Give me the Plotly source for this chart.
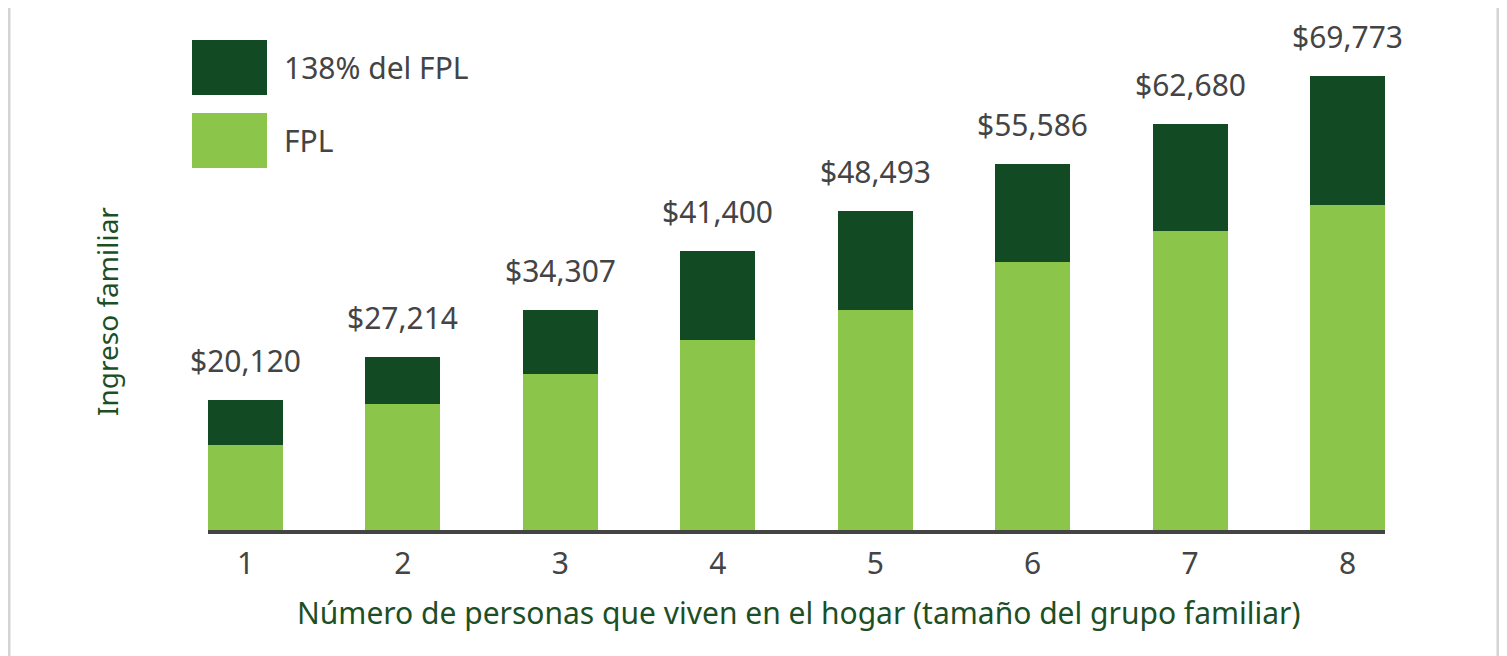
import plotly.graph_objects as go

categories = ["1", "2", "3", "4", "5", "6", "7", "8"]
# bar heights
bar_totals = [19980, 26590, 33810, 42880, 49030, 56250, 62400, 69773]
fpl = [13060, 19370, 23980, 29200, 33810, 41190, 45950, 49950]
series_names = ["138% del FPL", "FPL"]
total_labels = ["$20,120", "$27,214", "$34,307", "$41,400", "$48,493", "$55,586", "$62,680", "$69,773"]

extra = [t - f for t, f in zip(bar_totals, fpl)]

DARK = "#124a23"
LIGHT = "#8bc54a"
TXT = "#444444"
TITLE = "#1d4f26"
FONT = "Noto Sans"
FS = 30

OFF = 8  # page body margin
W, H = 1507 - OFF, 656 - OFF
PL, PR, PT, PB = 208, 1385, 30, 530
L, R, T, B = PL - OFF, W - (PR - OFF), PT - OFF, H - (PB - OFF)
pw, ph = PR - PL, PB - PT

x = list(range(1, 9))
bw = 0.476

fig = go.Figure()
fig.add_bar(x=x, y=fpl, name=series_names[1], marker_color=LIGHT, width=bw,
            marker_line_width=0, hoverinfo="skip")
fig.add_bar(x=x, y=extra, name=series_names[0], marker_color=DARK, width=bw,
            marker_line_width=0, hoverinfo="skip")

ymax = ph / (454 / 69773)

annotations = []
for xi, tot, lab in zip(x, bar_totals, total_labels):
    annotations.append(dict(x=xi, y=tot, xref="x", yref="y", text=lab, showarrow=False,
                            yanchor="bottom", yshift=17,
                            font=dict(family=FONT, size=FS, color=TXT)))

def px_x(p):
    return (p - PL) / pw

def px_y(p):
    return 1 - (p - PT) / ph

shapes = []
for (y0, y1, col, name) in [(40, 95, DARK, series_names[0]), (113, 168, LIGHT, series_names[1])]:
    shapes.append(dict(type="rect", xref="paper", yref="paper",
                       x0=px_x(192), x1=px_x(267), y0=px_y(y1), y1=px_y(y0),
                       fillcolor=col, line_width=0, layer="above"))
    annotations.append(dict(xref="paper", yref="paper", x=px_x(282), y=px_y((y0 + y1) / 2),
                            text=name, showarrow=False, xanchor="left", yanchor="middle",
                            font=dict(family=FONT, size=FS, color=TXT)))

annotations.append(dict(xref="paper", yref="paper", x=px_x(798), y=px_y(612),
                        text="Número de personas que viven en el hogar (tamaño del grupo familiar)",
                        showarrow=False, xanchor="center", yanchor="middle",
                        font=dict(family=FONT, size=FS, color=TITLE)))
annotations.append(dict(xref="paper", yref="paper", x=px_x(107), y=px_y(312),
                        text="Ingreso familiar", textangle=-90,
                        showarrow=False, xanchor="center", yanchor="middle",
                        font=dict(family=FONT, size=28, color=TITLE)))

shapes.append(dict(type="rect", xref="paper", yref="paper",
                   x0=px_x(9), x1=px_x(1498), y0=px_y(670), y1=px_y(5),
                   line=dict(color="#d4d4d4", width=3), fillcolor="rgba(0,0,0,0)"))

fig.update_layout(
    width=W, height=H, barmode="stack",
    margin=dict(l=L, r=R, t=T, b=B, autoexpand=False),
    paper_bgcolor="white", plot_bgcolor="white",
    showlegend=False, bargap=0,
    annotations=annotations, shapes=shapes,
    xaxis=dict(range=[1 - bw / 2, 8 + bw / 2], tickmode="array", tickvals=x, ticktext=categories,
               showline=True, linecolor="#444444", linewidth=4, showgrid=False, zeroline=False,
               ticks="", ticklabelstandoff=4,
               tickfont=dict(family=FONT, size=FS, color=TXT), fixedrange=True),
    yaxis=dict(range=[0, ymax], showticklabels=False, showgrid=False, zeroline=False,
               showline=False, fixedrange=True),
)

fig.write_html("out.html")
